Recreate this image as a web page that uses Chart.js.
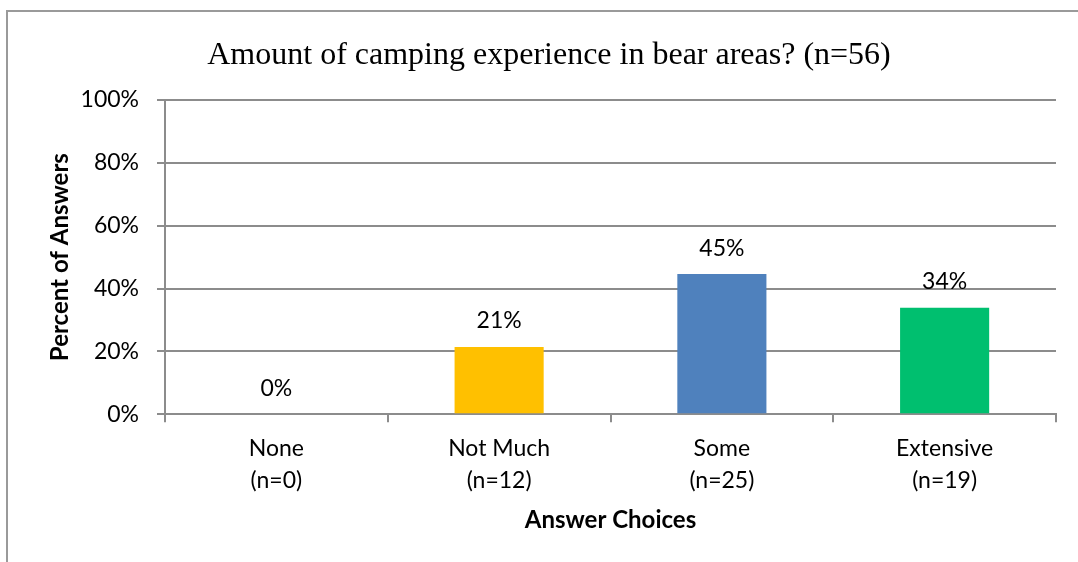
<!DOCTYPE html>
<html>
<head>
<meta charset="utf-8">
<script src="https://cdn.jsdelivr.net/npm/chart.js"></script>
<style>
  body { margin: 0; background: #fff; overflow: hidden; }
  #frame { position: absolute; left: 6px; top: 10px; width: 1200px; height: 700px; border: 2px solid #9a9a9a; }
  #myChart { position: absolute; left: 0; top: 0; }
</style>
</head>
<body>
<div id="frame"></div>
<canvas id="myChart" width="1078" height="562"></canvas>
<script>
// values
let categories = ["None", "Not Much", "Some", "Extensive"];
let counts = [0, 12, 25, 19];
let percents = [0, 21.4, 44.6, 33.9];
let barColors = ["#FFC000", "#FFC000", "#4F81BD", "#00BF6F"];
let yTicks = [0, 20, 40, 60, 80, 100];

let labels = categories.map((c, i) => [c, "(n=" + counts[i] + ")"]);
let gridColor = "#8c8c8c";
let sans = "Lato, 'Open Sans', sans-serif";

// draws the "21%" etc above each bar
let barLabels = {
  id: "barLabels",
  afterDatasetsDraw(chart) {
    let ctx = chart.ctx;
    let meta = chart.getDatasetMeta(0);
    ctx.save();
    ctx.font = "23px " + sans;
    ctx.fillStyle = "#000";
    ctx.textAlign = "center";
    ctx.textBaseline = "middle";
    meta.data.forEach((bar, i) => {
      ctx.fillText(Math.round(percents[i]) + "%", bar.x, bar.y - 26);
    });
    ctx.restore();
  }
};

var ctx = document.getElementById("myChart");
var chart = new Chart(ctx, {
  type: "bar",
  data: {
    labels: labels,
    datasets: [
      {
        label: "Percent of Answers",
        data: percents,
        backgroundColor: barColors,
        borderWidth: 0,
        categoryPercentage: 1,
        barPercentage: 0.4
      }
    ]
  },
  options: {
    responsive: false,
    animation: false,
    devicePixelRatio: 1,
    layout: { padding: { left: 42, right: 22, top: 10, bottom: 17 } },
    plugins: {
      legend: { display: false },
      tooltip: { enabled: false },
      title: {
        display: true,
        text: "Amount of camping experience in bear areas? (n=56)",
        color: "#000",
        font: { family: "'Liberation Serif', 'Times New Roman', serif", size: 32, weight: "normal", lineHeight: 1.2 },
        padding: { top: 26, bottom: 25.6 }
      }
    },
    scales: {
      x: {
        grid: { offset: true, drawOnChartArea: false, drawTicks: true, tickLength: 8, color: gridColor, lineWidth: 2 },
        border: { display: true, color: gridColor, width: 2 },
        ticks: { color: "#000", padding: 10, font: { family: sans, size: 23, lineHeight: 1.39 } },
        title: {
          display: true,
          text: "Answer Choices",
          color: "#000",
          font: { family: sans, size: 24, weight: "bold", lineHeight: 1.2 },
          padding: { top: 0, bottom: 10 }
        }
      },
      y: {
        min: 0,
        max: 100,
        afterBuildTicks: (s) => { s.ticks = yTicks.map((v) => ({ value: v })); },
        afterFit: (s) => { s.width = 123; },
        grid: { color: gridColor, lineWidth: 2, tickLength: 8 },
        border: { display: true, color: gridColor, width: 2 },
        ticks: { color: "#000", padding: 18, font: { family: sans, size: 23 }, callback: (v) => v + "%" },
        title: {
          display: true,
          text: "Percent of Answers",
          color: "#000",
          font: { family: sans, size: 24, weight: "bold", lineHeight: 1.2 },
          padding: { top: 4, bottom: 4 }
        }
      }
    }
  },
  plugins: [barLabels]
});
</script>
</body>
</html>
